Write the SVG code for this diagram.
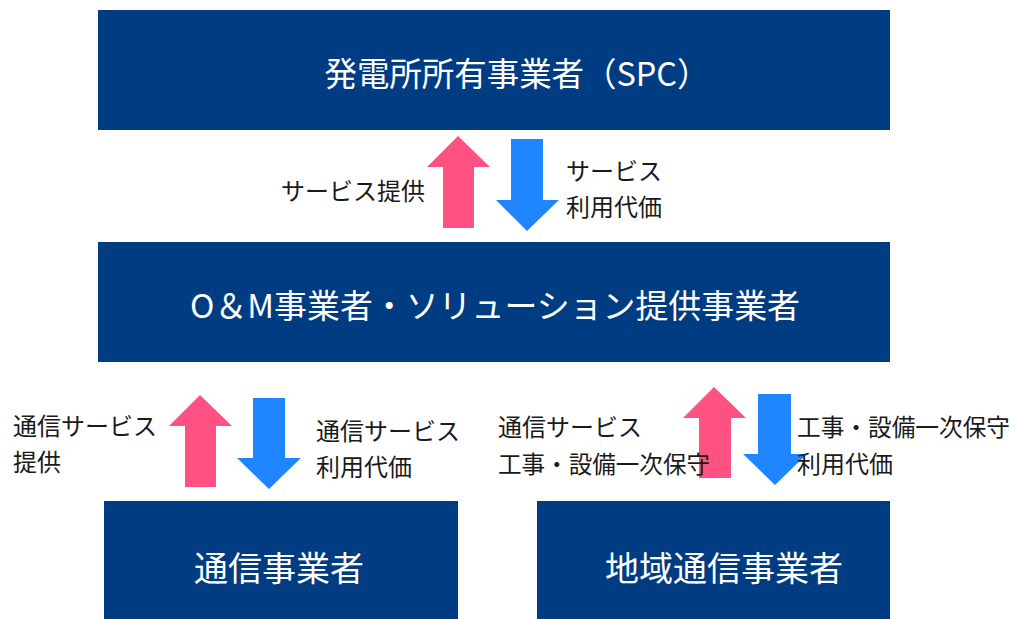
<svg xmlns="http://www.w3.org/2000/svg" width="1015" height="619" viewBox="0 0 1015 619">
<style>
.box{fill:#003C82;}
.bt{fill:#FFFFFF;font-family:"Noto Sans CJK JP","Noto Sans",sans-serif;font-size:33px;text-anchor:middle;}
.bb{font-size:34px;}
.lb{fill:#1A1A1A;font-family:"Noto Sans CJK JP","Noto Sans",sans-serif;font-size:24px;}
.up{fill:#FF5282;}
.dn{fill:#1F86FF;}
</style>
<rect width="1015" height="619" fill="#FFFFFF"/>
<g id="connectors">
<polygon class="up" points="458,136 490,167 474,167 474,228 443,228 443,167 427,167"/>
<polygon class="dn" points="511,139 543,139 543,200 559,200 527,231 496,200 511,200"/>
<polygon class="up" points="200,395 232,426 216,426 216,487 185,487 185,426 169,426"/>
<polygon class="dn" points="253,398 285,398 285,458 301,458 269,489 237,458 253,458"/>
<polygon class="up" points="714,387 746,418 731,418 731,478 699,478 699,418 683,418"/>
<polygon class="dn" points="758,394 791,394 791,454 807,454 775,485 743,454 758,454"/>
</g>
<g id="labels">
<text class="lb" x="281" y="200">サービス提供</text>
<text class="lb" x="566" y="180">サービス</text>
<text class="lb" x="566" y="216">利用代価</text>
<text class="lb" x="13" y="435">通信サービス</text>
<text class="lb" x="13" y="471">提供</text>
<text class="lb" x="316" y="440">通信サービス</text>
<text class="lb" x="316" y="476">利用代価</text>
<text class="lb" x="498" y="436">通信サービス</text>
<text class="lb" x="498" y="473" textLength="212" lengthAdjust="spacingAndGlyphs">工事・設備一次保守</text>
<text class="lb" x="797" y="436" textLength="213" lengthAdjust="spacingAndGlyphs">工事・設備一次保守</text>
<text class="lb" x="797" y="473">利用代価</text>
</g>
<g id="node-spc">
<rect class="box" x="98" y="10" width="792" height="120"/>
<text class="bt" x="517" y="86" textLength="385" lengthAdjust="spacingAndGlyphs">発電所所有事業者（SPC）</text>
</g>
<g id="node-om">
<rect class="box" x="98" y="242" width="792" height="120"/>
<text class="bt" x="495" y="318" textLength="610" lengthAdjust="spacingAndGlyphs">O＆M事業者・ソリューション提供事業者</text>
</g>
<g id="node-telecom">
<rect class="box" x="104" y="501" width="354" height="118"/>
<text class="bt bb" x="279" y="581">通信事業者</text>
</g>
<g id="node-local">
<rect class="box" x="537" y="501" width="353" height="118"/>
<text class="bt bb" x="724" y="581">地域通信事業者</text>
</g>
</svg>
